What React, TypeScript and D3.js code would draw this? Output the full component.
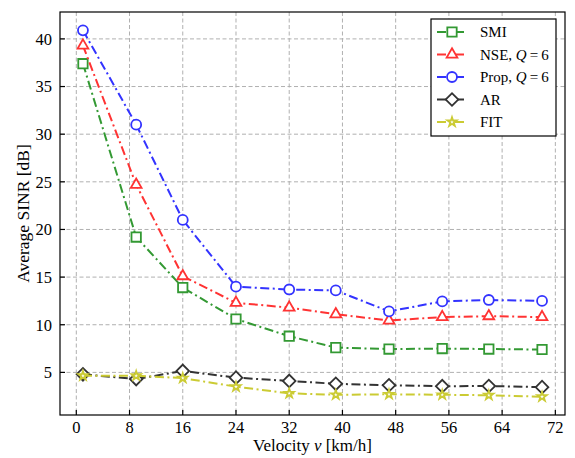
import React, { useEffect, useRef } from "react";
import * as d3 from "d3";

// velocity samples (km/h)
const velocity = [1, 9, 16, 24, 32, 39, 47, 55, 62, 70];

// average SINR per method (dB)
const smi = [37.4, 19.2, 13.9, 10.6, 8.8, 7.6, 7.45, 7.5, 7.45, 7.4];
const nse = [39.3, 24.7, 15.1, 12.3, 11.8, 11.1, 10.45, 10.8, 10.9, 10.8];
const prop = [40.9, 31.0, 21.0, 14.0, 13.7, 13.6, 11.4, 12.45, 12.6, 12.5];
const ar = [4.8, 4.3, 5.15, 4.45, 4.1, 3.8, 3.65, 3.55, 3.57, 3.45];
const fit = [4.65, 4.65, 4.4, 3.5, 2.8, 2.65, 2.7, 2.65, 2.6, 2.45];

const xTicks = [0, 8, 16, 24, 32, 40, 48, 56, 64, 72];
const yTicks = [5, 10, 15, 20, 25, 30, 35, 40];

const seriesNames = ["SMI", "NSE", "Prop", "AR", "FIT"];
const seriesColors = ["#339933", "#ff3333", "#3333ff", "#333333", "#cbcb33"];
const seriesSymbols = [d3.symbolSquare, d3.symbolTriangle, d3.symbolCircle, d3.symbolSquare, d3.symbolStar];
const seriesSizes = [88, 50, 78, 80, 26];
const seriesRotate = [0, 0, 0, 45, 0];
const seriesValues = [smi, nse, prop, ar, fit];

const W = 575;
const H = 458;
const margin = { left: 60, right: 10, top: 12, bottom: 43 };
const FONT = "'Liberation Serif', 'Times New Roman', serif";

function App() {
  const ref = useRef<SVGSVGElement>(null);

  useEffect(() => {
    const svg = d3.select(ref.current);
    svg.selectAll("*").remove();

    // matplotlib-style 5% margins
    const [x0, x1] = d3.extent(velocity) as [number, number];
    const allY = seriesValues.flat();
    const y0 = d3.min(allY) as number;
    const y1 = d3.max(allY) as number;
    const px = (x1 - x0) * 0.05;
    const py = (y1 - y0) * 0.05;

    const x = d3
      .scaleLinear()
      .domain([x0 - px, x1 + px])
      .range([margin.left, W - margin.right]);
    const y = d3
      .scaleLinear()
      .domain([y0 - py, y1 + py])
      .range([H - margin.bottom, margin.top]);

    const plotBottom = H - margin.bottom;
    const plotRight = W - margin.right;

    // grid
    const grid = svg.append("g").attr("stroke", "#b0b0b0").attr("stroke-width", 1).attr("stroke-dasharray", "4,2.5");
    xTicks.forEach((t) => {
      grid.append("line").attr("x1", x(t)).attr("x2", x(t)).attr("y1", margin.top).attr("y2", plotBottom);
    });
    yTicks.forEach((t) => {
      grid.append("line").attr("x1", margin.left).attr("x2", plotRight).attr("y1", y(t)).attr("y2", y(t));
    });

    // lines + markers
    const line = d3
      .line<number>()
      .x((d, i) => x(velocity[i]))
      .y((d) => y(d));

    seriesValues.forEach((vals, si) => {
      const g = svg.append("g");
      g.append("path")
        .datum(vals)
        .attr("fill", "none")
        .attr("stroke", seriesColors[si])
        .attr("stroke-width", 2)
        .attr("stroke-dasharray", "9,3.5,2,3.5")
        .attr("d", line);
      const sym = d3.symbol().type(seriesSymbols[si]).size(seriesSizes[si]);
      g.selectAll("path.m")
        .data(vals)
        .join("path")
        .attr("class", "m")
        .attr("d", sym)
        .attr("transform", (d, i) => `translate(${x(velocity[i])},${y(d)}) rotate(${seriesRotate[si]})`)
        .attr("fill", "#ffffff")
        .attr("stroke", seriesColors[si])
        .attr("stroke-width", 1.8);
    });

    // frame
    svg
      .append("rect")
      .attr("x", margin.left)
      .attr("y", margin.top)
      .attr("width", plotRight - margin.left)
      .attr("height", plotBottom - margin.top)
      .attr("fill", "none")
      .attr("stroke", "#000")
      .attr("stroke-width", 1.2);

    // ticks (inward)
    xTicks.forEach((t) => {
      svg.append("line").attr("x1", x(t)).attr("x2", x(t)).attr("y1", plotBottom).attr("y2", plotBottom - 5).attr("stroke", "#000").attr("stroke-width", 1.2);
      svg
        .append("text")
        .attr("x", x(t))
        .attr("y", plotBottom + 18)
        .attr("text-anchor", "middle")
        .attr("font-family", FONT)
        .attr("font-size", 16.5)
        .text(t);
    });
    yTicks.forEach((t) => {
      svg.append("line").attr("x1", margin.left).attr("x2", margin.left + 5).attr("y1", y(t)).attr("y2", y(t)).attr("stroke", "#000").attr("stroke-width", 1.2);
      svg
        .append("text")
        .attr("x", margin.left - 8)
        .attr("y", y(t))
        .attr("dy", "0.35em")
        .attr("text-anchor", "end")
        .attr("font-family", FONT)
        .attr("font-size", 16.5)
        .text(t);
    });

    // axis labels
    const xl = svg
      .append("text")
      .attr("x", (margin.left + plotRight) / 2)
      .attr("y", H - 7)
      .attr("text-anchor", "middle")
      .attr("font-family", FONT)
      .attr("font-size", 17);
    xl.append("tspan").text("Velocity ");
    xl.append("tspan").attr("font-style", "italic").text("v");
    xl.append("tspan").text(" [km/h]");

    svg
      .append("text")
      .attr("transform", `translate(23, ${(margin.top + plotBottom) / 2}) rotate(-90)`)
      .attr("dy", "0.35em")
      .attr("text-anchor", "middle")
      .attr("font-family", FONT)
      .attr("font-size", 17.5)
      .text("Average SINR [dB]");

    // legend
    const lg = svg.append("g").attr("transform", "translate(431,19)");
    lg.append("rect")
      .attr("width", 125)
      .attr("height", 117)
      .attr("fill", "#fff")
      .attr("stroke", "#000")
      .attr("stroke-width", 1.2);
    seriesNames.forEach((name, i) => {
      const cy = 13 + i * 22.5;
      const row = lg.append("g");
      row.append("line")
        .attr("x1", 6)
        .attr("x2", 36)
        .attr("y1", cy)
        .attr("y2", cy)
        .attr("stroke", seriesColors[i])
        .attr("stroke-width", 2)
        .attr("stroke-dasharray", "9,3.5,2,3.5");
      row.append("path")
        .attr("d", d3.symbol().type(seriesSymbols[i]).size(seriesSizes[i])())
        .attr("transform", `translate(21,${cy}) rotate(${seriesRotate[i]})`)
        .attr("fill", "#fff")
        .attr("stroke", seriesColors[i])
        .attr("stroke-width", 1.8);
      const t = row
        .append("text")
        .attr("x", 49)
        .attr("y", cy)
        .attr("dy", "0.35em")
        .attr("font-family", FONT)
        .attr("font-size", 15);
      if (name === "NSE" || name === "Prop") {
        t.append("tspan").text(name + ", ");
        t.append("tspan").attr("font-style", "italic").text("Q");
        t.append("tspan").text("\u2009=\u20096");
      } else {
        t.text(name);
      }
    });
  }, []);

  return (
    <svg
      ref={ref}
      width={W}
      height={H}
      style={{ position: "absolute", left: 0, top: 0, background: "#fff" }}
    ></svg>
  );
}

export default App;
